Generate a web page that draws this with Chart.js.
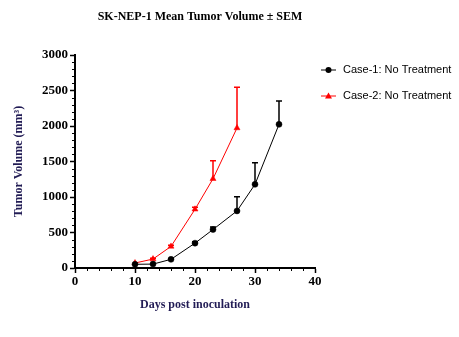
<!DOCTYPE html>
<html>
<head>
<meta charset="utf-8">
<script src="https://cdn.jsdelivr.net/npm/chart.js@4.4.0/dist/chart.umd.min.js"></script>
<style>
  html, body { margin: 0; padding: 0; background: #fff; }
  #wrap { width: 459px; height: 337px; }
</style>
</head>
<body>
<div id="wrap"><canvas id="c" width="459" height="337"></canvas></div>
<script>
// days post inoculation
var days1 = [10, 13, 16, 20, 23, 27, 30, 34];
var days2 = [10, 13, 16, 20, 23, 27];
// mean tumor volume (mm3) and SEM
var case1Mean = [52, 55, 122, 350, 542, 804, 1178, 2023];
var case1Sem  = [0, 0, 10, 20, 37, 200, 304, 328];
var case2Mean = [70, 126, 304, 827, 1257, 1972];
var case2Sem  = [0, 10, 15, 30, 253, 575];

var seriesNames = ['Case-1: No Treatment', 'Case-2: No Treatment'];
var xTicks = [0, 10, 20, 30, 40];
var yTicks = [0, 500, 1000, 1500, 2000, 2500, 3000];

function pts(xs, ys) {
    var out = [];
    for (var i = 0; i < xs.length; i++) out.push({x: xs[i], y: ys[i]});
    return out;
}

var serif = '"Liberation Serif", "Times New Roman", serif';
var sans = '"Liberation Sans", Arial, sans-serif';

// upper error bars, minor ticks, title and legend
var extras = {
    id: 'extras',
    beforeDatasetsDraw: function(chart) {
        var ctx = chart.ctx, xs = chart.scales.x, ys = chart.scales.y;
        var sets = [[days1, case1Mean, case1Sem], [days2, case2Mean, case2Sem]];
        ctx.save();
        for (var d = 0; d < sets.length; d++) {
            ctx.strokeStyle = chart.data.datasets[d].borderColor;
            ctx.lineWidth = 1.5;
            for (var i = 0; i < sets[d][0].length; i++) {
                if (!sets[d][2][i]) continue;
                var px = xs.getPixelForValue(sets[d][0][i]);
                var y0 = ys.getPixelForValue(sets[d][1][i]);
                var y1 = ys.getPixelForValue(sets[d][1][i] + sets[d][2][i]);
                ctx.beginPath();
                ctx.moveTo(px, y0); ctx.lineTo(px, y1);
                ctx.moveTo(px - 3, y1); ctx.lineTo(px + 3, y1);
                ctx.stroke();
            }
        }
        ctx.restore();
    },
    afterDraw: function(chart) {
        var ctx = chart.ctx, xs = chart.scales.x, ys = chart.scales.y;
        var area = chart.chartArea;
        ctx.save();
        ctx.strokeStyle = '#000';
        ctx.lineWidth = 1;
        ctx.beginPath();
        for (var v = 100; v < 3000; v += 100) {
            if (v % 500 === 0) continue;
            var py = Math.round(ys.getPixelForValue(v)) + 0.5;
            ctx.moveTo(area.left - 3, py); ctx.lineTo(area.left, py);
        }
        for (var t = 2; t < 40; t += 2) {
            if (t % 10 === 0) continue;
            var px = Math.round(xs.getPixelForValue(t)) + 0.5;
            ctx.moveTo(px, area.bottom); ctx.lineTo(px, area.bottom + 3);
        }
        ctx.stroke();

        ctx.fillStyle = '#000';
        ctx.font = 'bold 12px ' + serif;
        ctx.textAlign = 'center';
        ctx.textBaseline = 'middle';
        ctx.fillText('SK-NEP-1 Mean Tumor Volume \u00b1 SEM', 200, 17);

        var rows = [70, 96];
        ctx.font = '11px ' + sans;
        ctx.textAlign = 'left';
        for (var r = 0; r < 2; r++) {
            var ds = chart.data.datasets[r];
            ctx.strokeStyle = ds.borderColor;
            ctx.fillStyle = ds.borderColor;
            ctx.lineWidth = 1;
            ctx.beginPath();
            ctx.moveTo(321, rows[r]); ctx.lineTo(336, rows[r]);
            ctx.stroke();
            if (r === 0) {
                ctx.beginPath(); ctx.arc(328.5, rows[r], 3, 0, Math.PI * 2); ctx.fill();
            } else {
                ctx.beginPath();
                ctx.moveTo(328.5, rows[r] - 3.5); ctx.lineTo(332, rows[r] + 2.5); ctx.lineTo(325, rows[r] + 2.5);
                ctx.closePath(); ctx.fill();
            }
            ctx.fillStyle = '#000';
            ctx.fillText(seriesNames[r], 343, rows[r]);
        }
        ctx.restore();
    }
};

new Chart(document.getElementById('c'), {
    type: 'line',
    data: {
        datasets: [{
            label: seriesNames[0],
            data: pts(days1, case1Mean),
            borderColor: '#000000',
            backgroundColor: '#000000',
            borderWidth: 1,
            pointStyle: 'circle',
            pointRadius: 3,
            pointBorderWidth: 0.5,
            tension: 0
        }, {
            label: seriesNames[1],
            data: pts(days2, case2Mean),
            borderColor: '#ff0000',
            backgroundColor: '#ff0000',
            borderWidth: 1,
            pointStyle: 'triangle',
            pointRadius: 3.5,
            pointBorderWidth: 0.5,
            tension: 0
        }]
    },
    plugins: [extras],
    options: {
        responsive: false,
        animation: false,
        events: [],
        layout: { padding: { top: 55, right: 144, left: 0, bottom: 0 } },
        plugins: { legend: { display: false }, title: { display: false }, tooltip: { enabled: false } },
        scales: {
            x: {
                type: 'linear', min: 0, max: 40,
                afterFit: function(s) { s.height = 69; },
                afterBuildTicks: function(s) { s.ticks = xTicks.map(function(v) { return {value: v}; }); },
                grid: { drawOnChartArea: false, tickLength: 5, color: '#000', tickWidth: 1.5 },
                border: { color: '#000', width: 2 },
                ticks: { color: '#000', font: { family: serif, size: 13, weight: 'bold' }, padding: 1, maxRotation: 0,
                         callback: function(v) { return String(v); } },
                title: { display: true, text: 'Days post inoculation', color: '#221c55',
                         font: { family: serif, size: 12, weight: 'bold' }, padding: { bottom: 25 } }
            },
            y: {
                type: 'linear', min: 0, max: 3000,
                afterFit: function(s) { s.width = 75; },
                afterBuildTicks: function(s) { s.ticks = yTicks.map(function(v) { return {value: v}; }); },
                grid: { drawOnChartArea: false, tickLength: 5, color: '#000', tickWidth: 1.5 },
                border: { color: '#000', width: 2 },
                ticks: { color: '#000', font: { family: serif, size: 13, weight: 'bold' }, padding: 2,
                         callback: function(v) { return String(v); } },
                title: { display: true, text: 'Tumor Volume (mm\u00b3)', color: '#221c55',
                         font: { family: serif, size: 12, weight: 'bold' }, padding: { top: 12 } }
            }
        }
    }
});
</script>
</body>
</html>
